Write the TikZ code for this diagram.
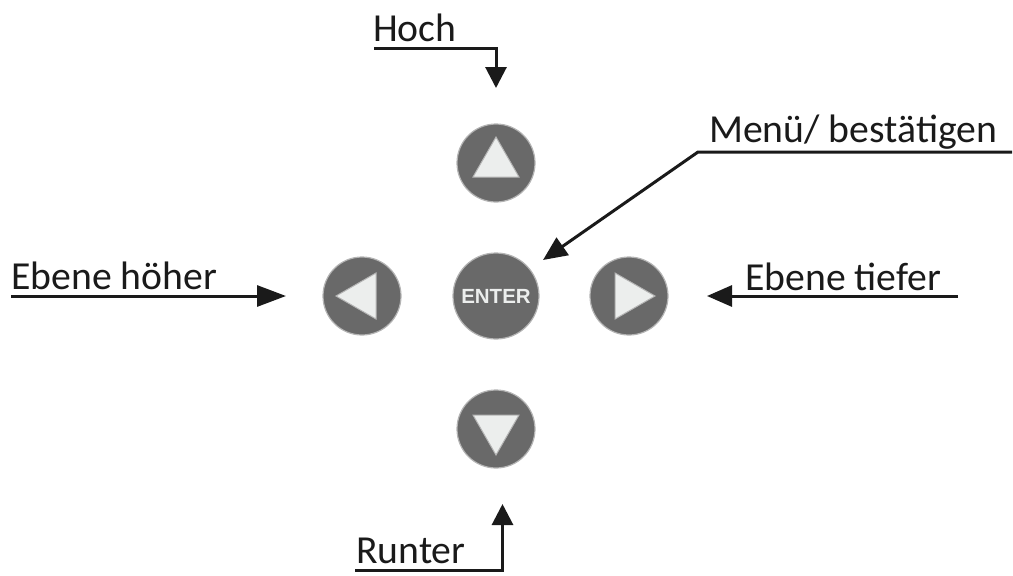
\documentclass[tikz,border=0pt]{standalone}
\usepackage{fontspec}
\usepackage{tikz}
\usetikzlibrary{arrows.meta}
\setmainfont{Carlito}
\newfontfamily\tastenfont{Liberation Sans}

\definecolor{tastegrau}{HTML}{696969}
\definecolor{randgrau}{HTML}{B4B4B4}
\definecolor{zeichen}{HTML}{ECEEED}
\definecolor{linie}{HTML}{1A1A1A}

\tikzset{
    taste/.style={circle, draw=randgrau, line width=1.2pt, fill=tastegrau, minimum size=78pt, inner sep=0pt},
    grosstaste/.style={taste, minimum size=86pt},
    dreieck/.style={draw=randgrau, line width=1pt, fill=zeichen, line join=miter},
    beschriftung/.style={font=\fontsize{39.7}{44}\selectfont, text=linie, inner sep=0pt, anchor=base west},
    pfeil/.style={draw=linie, line width=3pt, -{Triangle[length=#1,width=21pt]}},
    pfeil/.default=21pt,
}

\begin{document}
\begin{tikzpicture}[x=1pt, y=1pt]
        \useasboundingbox (0,0) rectangle (1013,-576);

        \node[taste] (hoch) at (496,-163) {};
        \node[taste] (runter) at (496,-429) {};
        \node[taste] (links) at (362,-296) {};
        \node[taste] (rechts) at (629,-296) {};
        \node[grosstaste, text=zeichen, font=\fontsize{20.5}{21}\tastenfont\bfseries] (enter) at (496,-296) {ENTER};

        % Dreiecke in den Tasten
        \foreach \taste/\winkel in {hoch/0, links/90, runter/180, rechts/270}
            \draw[dreieck, shift={(\taste)}, rotate=\winkel] (0,26) -- (-23,-14) -- (23,-14) -- cycle;

        % Beschriftungen
        \node[beschriftung] (thoch) at (373,-41) {Hoch};
        \node[beschriftung] (tmenu) at (709,-142) {Menü/ bestätigen};
        \node[beschriftung] (thoeher) at (11,-289) {Ebene höher};
        \node[beschriftung] (ttiefer) at (745,-290) {Ebene tiefer};
        \node[beschriftung] (trunter) at (356,-563) {Runter};

        % Endpunkte der Linien
        \coordinate (hochstart) at (374,-48);
        \coordinate (hochziel) at (496,-88);
        \coordinate (menustart) at (1012,-152);
        \coordinate (menuknick) at (698,-152);
        \coordinate (menuziel) at (543,-260);
        \coordinate (hoeherstart) at (11,-296);
        \coordinate (hoeherziel) at (286,-296);
        \coordinate (tieferstart) at (958,-296);
        \coordinate (tieferziel) at (707,-296);
        \coordinate (runterstart) at (355,-570.5);
        \coordinate (runterziel) at (502.5,-504);

        \draw[pfeil] (hochstart) -| (hochziel);
        \draw[pfeil=24pt] (menustart) -- (menuknick) -- (menuziel);
        \draw[pfeil=29pt] (hoeherstart) -- (hoeherziel);
        \draw[pfeil=25pt] (tieferstart) -- (tieferziel);
        \draw[pfeil] (runterstart) -| (runterziel);
    \end{tikzpicture}
\end{document}
